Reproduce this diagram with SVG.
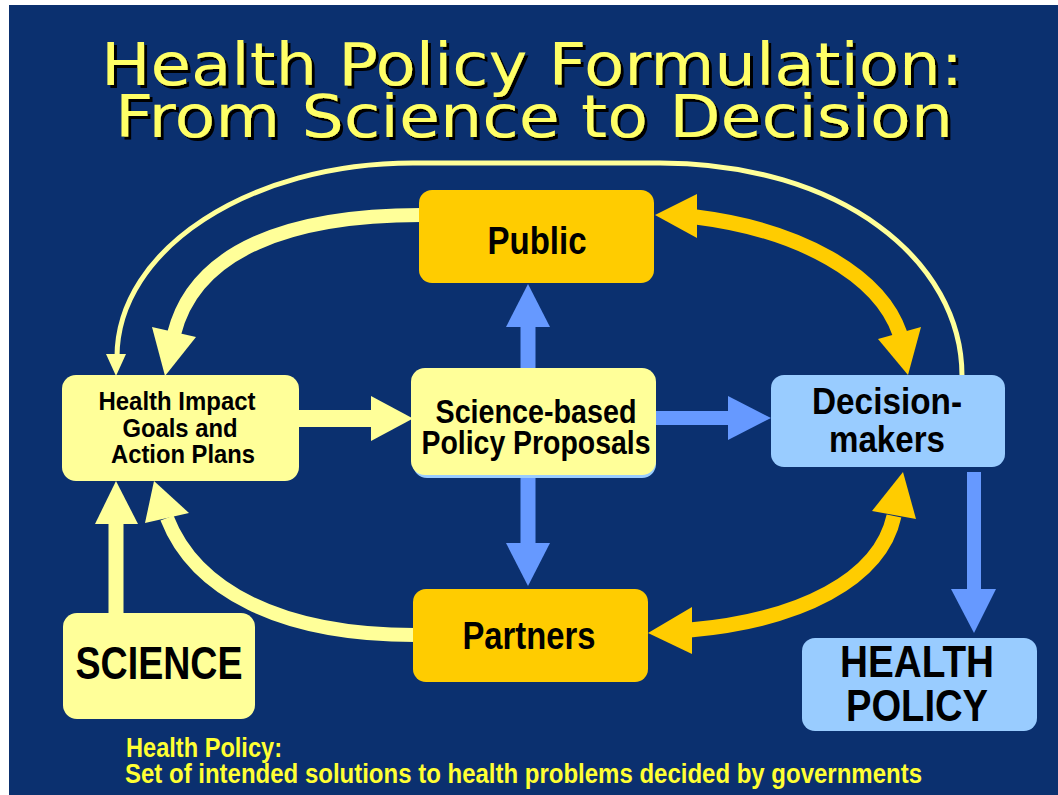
<svg xmlns="http://www.w3.org/2000/svg" width="1058" height="795" viewBox="0 0 1058 795">
<style>
.lbl{font-family:"Liberation Sans Narrow","Liberation Sans",Arial,sans-serif;font-weight:bold;fill:#000;text-anchor:middle}
.title{font-family:"DejaVu Sans","Liberation Sans",sans-serif;text-anchor:middle;font-size:58px;fill:#FFFF66;filter:url(#sh)}
.note{font-family:"Liberation Sans Narrow","Liberation Sans",Arial,sans-serif;font-weight:bold;fill:#FFFF33;font-size:27px}
.ly{fill:#FFFF99}
.or{fill:#FFCC00}
.lb{fill:#99CCFF}
.bl{fill:#6699FF}
.sy{fill:none;stroke:#FFFF99}
.so{fill:none;stroke:#FFCC00;stroke-width:15}
.sb{fill:none;stroke:#6699FF}
</style>
<defs>
<filter id="sh" x="-5%" y="-20%" width="110%" height="140%">
<feOffset in="SourceAlpha" dx="3" dy="3" result="o"/>
<feFlood flood-color="#000000"/>
<feComposite in2="o" operator="in" result="s"/>
<feMerge><feMergeNode in="s"/><feMergeNode in="SourceGraphic"/></feMerge>
</filter>
</defs>
<rect x="0" y="0" width="1058" height="795" fill="#FFFFFF"/>
<rect x="9" y="5" width="1049" height="790" fill="#0B306F"/>
<g id="title">
<text class="title"><tspan x="532" y="85" textLength="862" lengthAdjust="spacingAndGlyphs">Health Policy Formulation:</tspan><tspan x="534" y="137" textLength="838" lengthAdjust="spacingAndGlyphs">From Science to Decision</tspan></text>
</g>
<g id="connectors">
<path class="sy" stroke-width="5" d="M 962,376 C 962,260 840,163 660,163 L 413,163 C 250,163 117,249 117,357"/>
<polygon class="ly" points="106,354 126,354 116,376"/>
<path class="sy" stroke-width="14" d="M 421,215 C 290,215 195,250 174,334"/>
<polygon class="ly" points="152,327 196,337 165,376"/>
<path class="sy" stroke-width="14" d="M 415,635 C 280,635 195,590 167,518"/>
<polygon class="ly" points="145,523 189,513 154,481"/>
<path class="sy" stroke-width="15" d="M 116,614 L 116,522"/>
<polygon class="ly" points="95,524 138,524 116,481"/>
<path class="sy" stroke-width="17" d="M 298,418.5 L 373,418.5"/>
<polygon class="ly" points="371,396 371,441 413,418.5"/>
<path class="sb" stroke-width="15" d="M 528,369 L 528,325"/>
<polygon class="bl" points="506,327 550,327 528,284"/>
<path class="sb" stroke-width="15" d="M 528,474 L 528,545"/>
<polygon class="bl" points="506,543 550,543 528,586"/>
<path class="sb" stroke-width="14" d="M 655,418 L 730,418"/>
<polygon class="bl" points="728,396 728,440 771,418"/>
<path class="sb" stroke-width="14" d="M 974,472 L 974,591"/>
<polygon class="bl" points="951,589 996,589 974,633"/>
<path class="so" d="M 696,217 C 800,230 880,275 900,334"/>
<polygon class="or" points="697,194 697,238 655,215"/>
<polygon class="or" points="878,339 921,327 908,375"/>
<path class="so" d="M 690,630 C 800,620 880,580 894,516"/>
<polygon class="or" points="692,607 692,654 648,633"/>
<polygon class="or" points="872,511 916,519 903,472"/>
</g>
<g id="public">
<rect class="or" x="419" y="190" width="235" height="93" rx="13"/>
<text class="lbl" x="537" y="254" font-size="38" textLength="99" lengthAdjust="spacingAndGlyphs">Public</text>
</g>
<g id="health-impact">
<rect class="ly" x="62" y="375" width="237" height="106" rx="14"/>
<text class="lbl" font-size="26"><tspan x="177" y="410" textLength="157" lengthAdjust="spacingAndGlyphs">Health Impact</tspan><tspan x="180" y="437" textLength="115" lengthAdjust="spacingAndGlyphs">Goals and</tspan><tspan x="183" y="463" textLength="144" lengthAdjust="spacingAndGlyphs">Action Plans</tspan></text>
</g>
<g id="science-based">
<rect class="lb" x="413" y="372" width="243" height="106" rx="14"/>
<rect class="ly" x="411" y="368" width="245" height="107" rx="14"/>
<text class="lbl" font-size="34"><tspan x="536" y="423" textLength="201" lengthAdjust="spacingAndGlyphs">Science-based</tspan><tspan x="536" y="454" textLength="229" lengthAdjust="spacingAndGlyphs">Policy Proposals</tspan></text>
</g>
<g id="decision-makers">
<rect class="lb" x="771" y="375" width="234" height="92" rx="13"/>
<text class="lbl" font-size="37"><tspan x="887" y="414" textLength="150" lengthAdjust="spacingAndGlyphs">Decision-</tspan><tspan x="887" y="452" textLength="116" lengthAdjust="spacingAndGlyphs">makers</tspan></text>
</g>
<g id="partners">
<rect class="or" x="413" y="589" width="235" height="93" rx="13"/>
<text class="lbl" x="529" y="649" font-size="38" textLength="133" lengthAdjust="spacingAndGlyphs">Partners</text>
</g>
<g id="science">
<rect class="ly" x="63" y="613" width="192" height="106" rx="14"/>
<text class="lbl" x="159" y="679" font-size="46" textLength="167" lengthAdjust="spacingAndGlyphs">SCIENCE</text>
</g>
<g id="health-policy">
<rect class="lb" x="802" y="638" width="235" height="93" rx="13"/>
<text class="lbl" font-size="45"><tspan x="917" y="677" textLength="154" lengthAdjust="spacingAndGlyphs">HEALTH</tspan><tspan x="917" y="721" textLength="142" lengthAdjust="spacingAndGlyphs">POLICY</tspan></text>
</g>
<g id="definition">
<text class="note"><tspan x="126" y="757" textLength="156" lengthAdjust="spacingAndGlyphs">Health Policy:</tspan><tspan x="125" y="783" textLength="797" lengthAdjust="spacingAndGlyphs">Set of intended solutions to health problems decided by governments</tspan></text>
</g>
</svg>
